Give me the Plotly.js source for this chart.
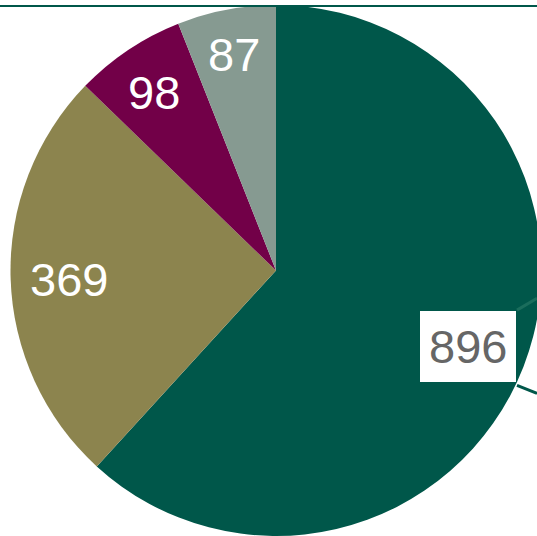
<!DOCTYPE html>
<html>
<head>
<meta charset="utf-8">
<script src="https://cdn.plot.ly/plotly-3.0.1.min.js"></script>
<style>
html,body{margin:0;padding:0;overflow:hidden;background:#fff;width:537px;height:536px;}
#chart{width:552px;height:536px;}
</style>
</head>
<body>
<div id="chart"></div>
<script>
var categories = ['A', 'B', 'C', 'D'];
var values = [896, 369, 98, 87];
var colors = ['#00574a', '#8c844e', '#720048', '#869a91'];

var W = 552, H = 536, M = {l: 0, r: 0, t: 5, b: 0};
var total = values.reduce(function(a, b){ return a + b; }, 0);

var plotW = W - M.l - M.r, plotH = H - M.t - M.b;
var R = Math.min(plotW, plotH) / 2;
var cx = M.l + plotW / 2, cy = M.t + plotH / 2;
var labelRadius = [0.775, 0.78, 0.825, 0.845];
var fontSpec = 'Liberation Sans, Arial, sans-serif';

var annotations = [];
var cum = 0;
values.forEach(function(v, i){
  var mid = (cum + v / 2) / total * 2 * Math.PI;
  cum += v;
  var rr = labelRadius[i] * R;
  var boxed = (i === 0);
  annotations.push({
    xref: 'paper', yref: 'paper',
    x: (cx + rr * Math.sin(mid)) / W,
    y: 1 - (cy - rr * Math.cos(mid)) / H,
    xanchor: 'center', yanchor: 'middle',
    text: String(v), showarrow: false,
    font: {family: fontSpec, size: 47, color: boxed ? '#666666' : '#ffffff'},
    bgcolor: boxed ? '#ffffff' : 'rgba(0,0,0,0)',
    borderpad: 9, borderwidth: 0
  });
});

var trace = {
  type: 'pie',
  labels: categories,
  values: values,
  sort: false,
  direction: 'clockwise',
  rotation: 0,
  marker: {colors: colors, line: {width: 0}},
  textinfo: 'none',
  hoverinfo: 'none',
  showlegend: false
};

var layout = {
  width: W, height: H,
  margin: M,
  paper_bgcolor: '#ffffff',
  showlegend: false,
  annotations: annotations,
  shapes: [
    {type: 'line', xref: 'paper', yref: 'paper', x0: 0, x1: 1, y0: 1 - 1/H, y1: 1 - 1/H,
     line: {color: '#00574a', width: 2}, layer: 'above'},
    {type: 'line', xref: 'paper', yref: 'paper', x0: 517/W, x1: 537/W, y0: 1 - 308/H, y1: 1 - 296/H,
     line: {color: '#1a6d5c', width: 3}, layer: 'above'},
    {type: 'line', xref: 'paper', yref: 'paper', x0: 517/W, x1: 537/W, y0: 1 - 384/H, y1: 1 - 392/H,
     line: {color: '#00574a', width: 3}, layer: 'above'}
  ]
};

Plotly.newPlot('chart', [trace], layout, {displayModeBar: false, staticPlot: true});
</script>
</body>
</html>
